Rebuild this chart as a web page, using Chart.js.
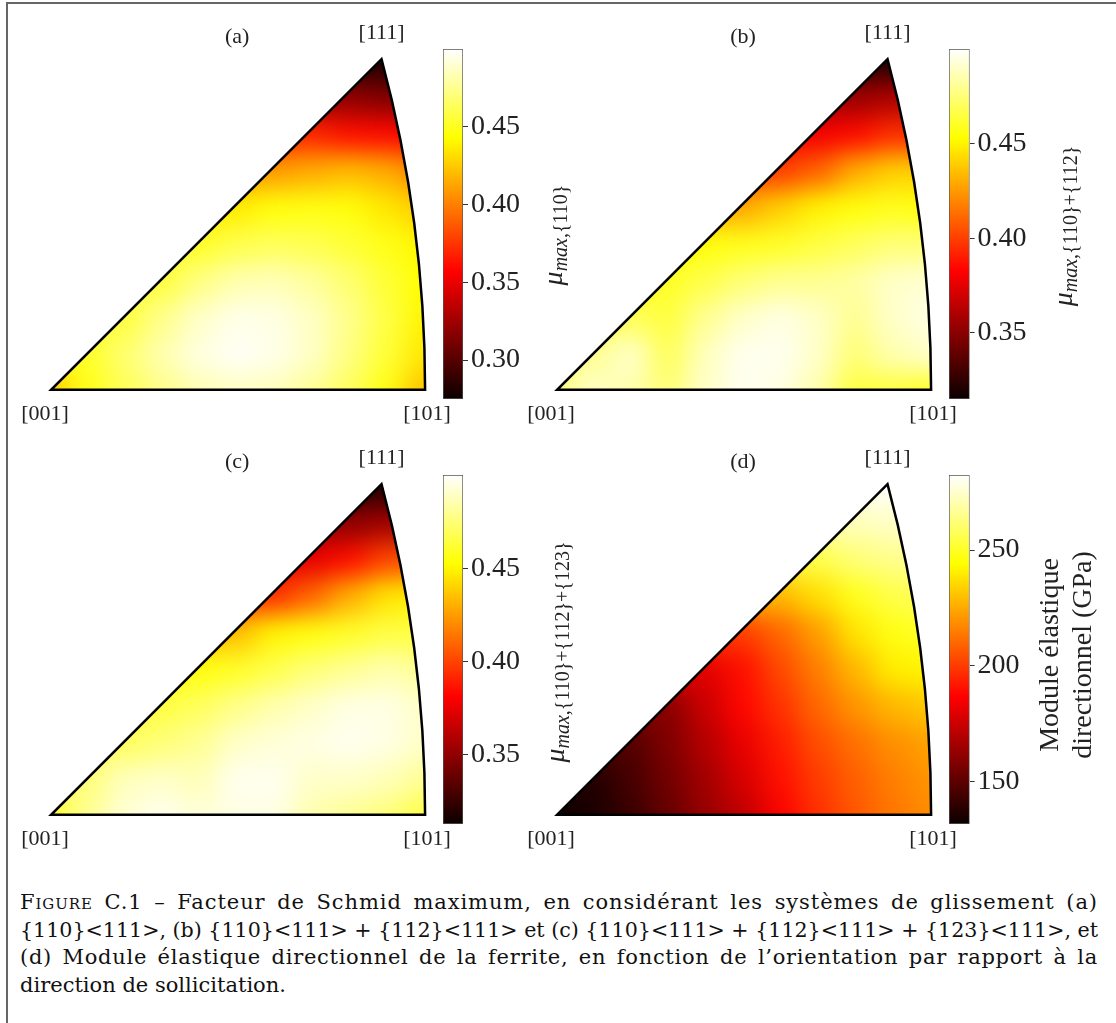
<!DOCTYPE html>
<html>
<head>
<meta charset="utf-8">
<script src="https://cdn.jsdelivr.net/npm/chart.js@4.4.1/dist/chart.umd.min.js"></script>
<style>
  html, body { margin: 0; padding: 0; background: #fff; }
  body { width: 1116px; height: 1023px; overflow: hidden; position: relative; }
  .cadre { position: absolute; left: 6px; top: 2px; width: 1200px; height: 1100px;
           border-left: 2px solid #666; border-top: 2px solid #666; }
  canvas { position: absolute; }
  .legende { position: absolute; left: 20px; top: 889px; width: 1078px;
             font-family: "DejaVu Serif", serif; font-size: 21px; line-height: 27.7px; color: #111; }
  .legende div { white-space: nowrap; }
  .legende .ln { display: inline-block; transform-origin: 0 50%; }
  .sc { font-variant: small-caps; }
</style>
</head>
<body>
<div class="cadre"></div>

<canvas id="triA"></canvas>
<canvas id="triB"></canvas>
<canvas id="triC"></canvas>
<canvas id="triD"></canvas>
<canvas id="cbA"></canvas>
<canvas id="cbB"></canvas>
<canvas id="cbC"></canvas>
<canvas id="cbD"></canvas>

<div class="legende">
  <div><span class="ln fit"><span class="sc">Figure</span> C.1 – Facteur de Schmid maximum, en considérant les systèmes de glissement (a)</span></div>
  <div><span class="ln fit">{110}&lt;111&gt;, (b) {110}&lt;111&gt; + {112}&lt;111&gt; et (c) {110}&lt;111&gt; + {112}&lt;111&gt; + {123}&lt;111&gt;, et</span></div>
  <div><span class="ln fit">(d) Module élastique directionnel de la ferrite, en fonction de l’orientation par rapport à la</span></div>
  <div><span class="ln">direction de sollicitation.</span></div>
</div>

<script>
// --- DONNÉES ---
// coins du triangle standard en projection stéréographique
const cornerLabels = ['[001]', '[101]', '[111]'];
const cornerX = [0, 0.4142, 0.366];
const cornerY = [0, 0, 0.366];

// grille de lecture : colonnes (x) et lignes (y, du bas vers le haut)
const gridX = [0, 0.0414, 0.0828, 0.1243, 0.1657, 0.2071, 0.2485, 0.2899, 0.3314, 0.3728, 0.4142];
const gridY = [0, 0.0407, 0.0813, 0.122, 0.1627, 0.2033, 0.244, 0.2847, 0.3253, 0.366];

// (a) {110}<111>
const schmidA = [
  [0.425, 0.448, 0.462, 0.474, 0.483, 0.487, 0.485, 0.477, 0.464, 0.447, 0.422],
  [0.450, 0.452, 0.468, 0.482, 0.493, 0.498, 0.495, 0.487, 0.472, 0.455, 0.435],
  [0.457, 0.457, 0.457, 0.474, 0.488, 0.495, 0.494, 0.487, 0.474, 0.458, 0.440],
  [0.457, 0.457, 0.457, 0.457, 0.472, 0.482, 0.484, 0.478, 0.468, 0.455, 0.443],
  [0.452, 0.452, 0.452, 0.452, 0.452, 0.460, 0.463, 0.461, 0.455, 0.448, 0.440],
  [0.435, 0.435, 0.435, 0.435, 0.435, 0.437, 0.445, 0.447, 0.445, 0.435, 0.425],
  [0.410, 0.410, 0.410, 0.410, 0.410, 0.410, 0.410, 0.415, 0.420, 0.415, 0.400],
  [0.370, 0.370, 0.370, 0.370, 0.370, 0.370, 0.370, 0.370, 0.362, 0.360, 0.355],
  [0.320, 0.320, 0.320, 0.320, 0.320, 0.320, 0.320, 0.320, 0.320, 0.315, 0.310],
  [0.280, 0.280, 0.280, 0.280, 0.280, 0.280, 0.280, 0.280, 0.280, 0.280, 0.280]
];
// (b) {110}<111> + {112}<111>
const schmidB = [
  [0.475, 0.490, 0.485, 0.475, 0.490, 0.497, 0.495, 0.485, 0.465, 0.465, 0.460],
  [0.480, 0.480, 0.490, 0.470, 0.488, 0.497, 0.497, 0.490, 0.475, 0.485, 0.490],
  [0.470, 0.470, 0.470, 0.465, 0.480, 0.490, 0.495, 0.490, 0.480, 0.490, 0.495],
  [0.460, 0.460, 0.460, 0.460, 0.467, 0.475, 0.480, 0.480, 0.483, 0.490, 0.492],
  [0.455, 0.455, 0.455, 0.455, 0.455, 0.458, 0.460, 0.465, 0.470, 0.475, 0.475],
  [0.430, 0.430, 0.430, 0.430, 0.430, 0.430, 0.440, 0.450, 0.455, 0.458, 0.455],
  [0.400, 0.400, 0.400, 0.400, 0.400, 0.400, 0.400, 0.410, 0.430, 0.440, 0.440],
  [0.380, 0.380, 0.380, 0.380, 0.380, 0.380, 0.380, 0.380, 0.385, 0.395, 0.395],
  [0.355, 0.355, 0.355, 0.355, 0.355, 0.355, 0.355, 0.355, 0.355, 0.360, 0.360],
  [0.322, 0.322, 0.322, 0.322, 0.322, 0.322, 0.322, 0.322, 0.322, 0.320, 0.320]
];
// (c) {110}<111> + {112}<111> + {123}<111>
const schmidC = [
  [0.460, 0.480, 0.492, 0.497, 0.493, 0.495, 0.495, 0.485, 0.480, 0.475, 0.465],
  [0.475, 0.475, 0.488, 0.490, 0.487, 0.497, 0.497, 0.490, 0.490, 0.487, 0.480],
  [0.470, 0.470, 0.470, 0.475, 0.480, 0.490, 0.493, 0.495, 0.497, 0.495, 0.490],
  [0.465, 0.465, 0.465, 0.465, 0.470, 0.478, 0.485, 0.490, 0.495, 0.495, 0.490],
  [0.455, 0.455, 0.455, 0.455, 0.455, 0.460, 0.467, 0.475, 0.480, 0.485, 0.480],
  [0.435, 0.435, 0.435, 0.435, 0.435, 0.435, 0.450, 0.455, 0.460, 0.465, 0.465],
  [0.395, 0.395, 0.395, 0.395, 0.395, 0.395, 0.395, 0.410, 0.430, 0.445, 0.450],
  [0.375, 0.375, 0.375, 0.375, 0.375, 0.375, 0.375, 0.375, 0.385, 0.400, 0.405],
  [0.350, 0.350, 0.350, 0.350, 0.350, 0.350, 0.350, 0.350, 0.350, 0.355, 0.355],
  [0.318, 0.318, 0.318, 0.318, 0.318, 0.318, 0.318, 0.318, 0.318, 0.318, 0.320]
];
// (d) module élastique directionnel (GPa)
const moduleD = [
  [132, 135, 142, 152, 163, 172, 186, 197, 206, 213, 218],
  [137, 137, 145, 155, 166, 178, 190, 200, 208, 215, 220],
  [148, 148, 148, 158, 170, 182, 193, 204, 212, 219, 223],
  [160, 160, 160, 160, 175, 188, 198, 210, 220, 228, 232],
  [180, 180, 180, 180, 180, 190, 203, 215, 228, 240, 242],
  [200, 200, 200, 200, 200, 200, 210, 222, 238, 247, 250],
  [228, 228, 228, 228, 228, 228, 228, 237, 248, 255, 258],
  [255, 255, 255, 255, 255, 255, 255, 255, 262, 265, 266],
  [272, 272, 272, 272, 272, 272, 272, 272, 272, 274, 274],
  [282, 282, 282, 282, 282, 282, 282, 282, 282, 282, 282]
];

// bornes des barres de couleur et graduations
const rangeA = [0.275, 0.5];
const rangeB = [0.315, 0.5];
const rangeC = [0.313, 0.5];
const rangeD = [131.7, 282.4];
const ticksA = [0.30, 0.35, 0.40, 0.45];
const ticksB = [0.35, 0.40, 0.45];
const ticksC = [0.35, 0.40, 0.45];
const ticksD = [150, 200, 250];
const panelLetters = ['(a)', '(b)', '(c)', '(d)'];

// --- COLORMAP "hot" ---
function hot(t) {
  t = Math.max(0, Math.min(1, t));
  const r = t < 0.365079 ? 0.0416 + (1 - 0.0416) * t / 0.365079 : 1;
  const g = t < 0.365079 ? 0 : (t < 0.746032 ? (t - 0.365079) / (0.746032 - 0.365079) : 1);
  const b = t < 0.746032 ? 0 : (t - 0.746032) / (1 - 0.746032);
  return `rgb(${Math.round(r * 255)},${Math.round(g * 255)},${Math.round(b * 255)})`;
}

const SERIF = '"Liberation Serif", "DejaVu Serif", serif';

// contour du triangle : [001] -> [101] -> arc -> [111] -> [001]
function traceTriangle(chart) {
  const ctx = chart.ctx, xs = chart.scales.x, ys = chart.scales.y;
  const x0 = xs.getPixelForValue(cornerX[0]), y0 = ys.getPixelForValue(cornerY[0]);
  const x1 = xs.getPixelForValue(cornerX[1]);
  const x2 = xs.getPixelForValue(cornerX[2]), y2 = ys.getPixelForValue(cornerY[2]);
  const cx = xs.getPixelForValue(-1);
  const R = x1 - cx;
  const ang = Math.atan2(y2 - y0, x2 - cx);
  ctx.beginPath();
  ctx.moveTo(x0, y0);
  ctx.lineTo(x1, y0);
  ctx.arc(cx, y0, R, 0, ang, true);
  ctx.closePath();
}

const ipfPlugin = {
  id: 'ipf',
  afterDatasetsDraw(chart) {
    // lissage de la carte puis découpe au contour du triangle
    const ctx = chart.ctx, a = chart.chartArea;
    const L = Math.floor(a.left), T = Math.floor(a.top);
    const W = Math.ceil(a.right) - L, H = Math.ceil(a.bottom) - T;
    const off = document.createElement('canvas');
    off.width = W; off.height = H;
    off.getContext('2d').drawImage(chart.canvas, L, T, W, H, 0, 0, W, H);
    ctx.save();
    ctx.clearRect(L, T, W, H);
    traceTriangle(chart);
    ctx.clip();
    ctx.filter = 'blur(13px)';
    ctx.drawImage(off, L, T);
    ctx.restore();
  },
  afterDraw(chart) {
    const ctx = chart.ctx, xs = chart.scales.x, ys = chart.scales.y;
    ctx.save();
    traceTriangle(chart);
    ctx.lineWidth = 2.5;
    ctx.strokeStyle = '#000';
    ctx.lineJoin = 'miter';
    ctx.stroke();

    const px = cornerX.map(v => xs.getPixelForValue(v));
    const py = cornerY.map(v => ys.getPixelForValue(v));
    ctx.font = '22px ' + SERIF;
    ctx.fillStyle = '#222';
    ctx.textAlign = 'center';
    ctx.textBaseline = 'middle';
    ctx.fillText(cornerLabels[0], px[0] - 6, py[0] + 24);
    ctx.fillText(cornerLabels[1], px[1] + 2, py[1] + 24);
    ctx.fillText(cornerLabels[2], px[2], py[2] - 26);
    ctx.fillText(chart.options.plugins.ipf.letter, px[0] + 186, py[2] - 22);
    ctx.restore();
  }
};

function buildTriangle(id, values, range, letter, left, top) {
  const canvas = document.getElementById(id);
  canvas.width = 457; canvas.height = 460;
  canvas.style.left = left + 'px';
  canvas.style.top = top + 'px';

  const cells = [], colors = [];
  gridY.forEach((y, j) => {
    gridX.forEach((x, i) => {
      cells.push({ x: x, y: y });
      colors.push(hot((values[j][i] - range[0]) / (range[1] - range[0])));
    });
  });

  const cellRadius = ctx => {
    const s = ctx.chart.scales.x;
    return Math.abs(s.getPixelForValue(gridX[1]) - s.getPixelForValue(gridX[0])) * 0.76;
  };

  return new Chart(canvas, {
    type: 'scatter',
    data: {
      datasets: [
        { data: cells, backgroundColor: colors, pointStyle: 'rect', borderWidth: 0,
          pointRadius: cellRadius, order: 1 },
        // débord autour de la grille pour que le lissage ne s'éclaircisse pas aux bords
        { data: cells, backgroundColor: colors, pointStyle: 'rect', borderWidth: 0,
          pointRadius: ctx => cellRadius(ctx) * 2.2, order: 2 }
      ]
    },
    options: {
      responsive: false,
      animation: false,
      events: [],
      layout: { padding: { left: 14, right: 6, top: 30, bottom: 36 } },
      plugins: { legend: { display: false }, tooltip: { enabled: false }, ipf: { letter: letter } },
      scales: {
        x: { type: 'linear', min: -0.04, max: 0.444, display: false },
        y: { type: 'linear', min: -0.04, max: 0.396, display: false }
      }
    },
    plugins: [ipfPlugin]
  });
}

// titre vertical de la barre de couleur (avec indice)
const cbLabelPlugin = {
  id: 'cbLabel',
  afterDraw(chart) {
    const o = chart.options.plugins.cbLabel;
    const ctx = chart.ctx;
    o.lines.forEach(line => {
      ctx.save();
      ctx.translate(line.x, o.y);
      ctx.rotate(-Math.PI / 2);
      ctx.fillStyle = '#222';
      ctx.textBaseline = 'alphabetic';
      ctx.textAlign = 'left';
      let total = 0;
      const widths = line.parts.map(p => {
        ctx.font = (p.italic ? 'italic ' : '') + p.size + 'px ' + SERIF;
        const w = ctx.measureText(p.text).width;
        total += w;
        return w;
      });
      let pos = -total / 2;
      line.parts.forEach((p, i) => {
        ctx.font = (p.italic ? 'italic ' : '') + p.size + 'px ' + SERIF;
        ctx.fillText(p.text, pos, p.dy || 0);
        pos += widths[i];
      });
      ctx.restore();
    });
  }
};

function buildColorbar(id, range, tickVals, digits, left, top, barW, barH, width, label) {
  const canvas = document.getElementById(id);
  canvas.width = width; canvas.height = barH + 55;
  canvas.style.left = left + 'px';
  canvas.style.top = top + 'px';
  const axisW = width - 8 - barW;

  return new Chart(canvas, {
    type: 'bar',
    data: {
      labels: [''],
      datasets: [{
        data: [[range[0], range[1]]],
        backgroundColor: ctx => {
          const area = ctx.chart.chartArea;
          if (!area) return '#000';
          const g = ctx.chart.ctx.createLinearGradient(0, area.bottom, 0, area.top);
          [0, 0.365079, 0.746032, 1].forEach(s => g.addColorStop(s, hot(s)));
          return g;
        },
        borderColor: '#555',
        borderWidth: 1,
        borderSkipped: false,
        barPercentage: 1,
        categoryPercentage: 1
      }]
    },
    options: {
      responsive: false,
      animation: false,
      events: [],
      layout: { padding: { left: 8, right: 0, top: 30, bottom: 25 } },
      plugins: { legend: { display: false }, tooltip: { enabled: false }, cbLabel: label },
      scales: {
        x: { display: false },
        y: {
          position: 'right',
          min: range[0],
          max: range[1],
          afterBuildTicks: s => { s.ticks = tickVals.map(v => ({ value: v })); },
          afterFit: s => { s.width = axisW; },
          grid: { drawOnChartArea: false, drawTicks: true, tickLength: 5, color: '#333', lineWidth: 1 },
          border: { display: false },
          ticks: {
            autoSkip: false,
            padding: 3,
            color: '#222',
            font: { family: SERIF, size: 28 },
            callback: v => Number(v).toFixed(digits)
          }
        }
      }
    },
    plugins: [cbLabelPlugin]
  });
}

function muLabel(sub) {
  return [
    { text: 'μ', italic: true, size: 28, dy: 0 },
    { text: 'max', italic: true, size: 20, dy: 5 },
    { text: sub, italic: false, size: 20, dy: 5 }
  ];
}

buildTriangle('triA', schmidA, rangeA, panelLetters[0], 1, 2);
buildTriangle('triB', schmidB, rangeB, panelLetters[1], 507, 2);
buildTriangle('triC', schmidC, rangeC, panelLetters[2], 1, 427);
buildTriangle('triD', moduleD, rangeD, panelLetters[3], 507, 427);

buildColorbar('cbA', rangeA, ticksA, 2, 435, 19, 20, 350, 140,
  { y: 216, lines: [{ x: 127, parts: muLabel(',{110}') }] });
buildColorbar('cbB', rangeB, ticksB, 2, 941, 19, 20.6, 350, 175,
  { y: 207, lines: [{ x: 131, parts: muLabel(',{110}+{112}') }] });
buildColorbar('cbC', rangeC, ticksC, 2, 435, 445, 20, 349, 140,
  { y: 207, lines: [{ x: 129, parts: muLabel(',{110}+{112}+{123}') }] });
buildColorbar('cbD', rangeD, ticksD, 0, 941, 445, 20.6, 349, 175,
  { y: 210, lines: [
    { x: 117, parts: [{ text: 'Module élastique', italic: false, size: 28 }] },
    { x: 150, parts: [{ text: 'directionnel (GPa)', italic: false, size: 28 }] }
  ] });

// --- LÉGENDE : lignes justifiées sur toute la largeur ---
document.querySelectorAll('.legende .fit').forEach(sp => {
  const target = 1078;
  let w = sp.getBoundingClientRect().width;
  if (w > target) {
    sp.style.transform = `scaleX(${target / w})`;
    return;
  }
  const nChars = sp.textContent.length;
  const nSpaces = (sp.textContent.match(/ /g) || []).length;
  sp.style.letterSpacing = ((target - w) * 0.6 / nChars) + 'px';
  w = sp.getBoundingClientRect().width;
  if (nSpaces > 0 && w < target) sp.style.wordSpacing = ((target - w) / nSpaces) + 'px';
});
</script>
</body>
</html>
